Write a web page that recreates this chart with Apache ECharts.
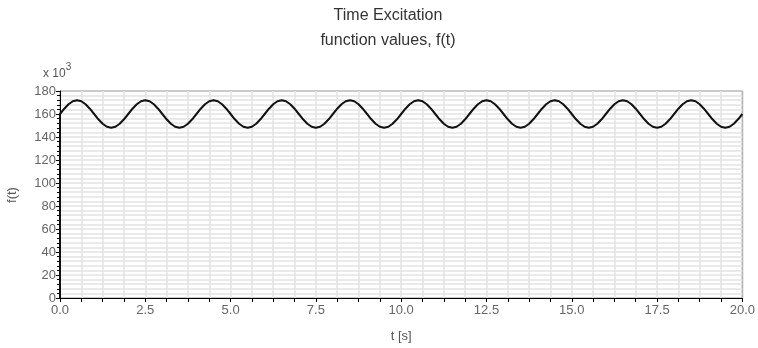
<!DOCTYPE html>
<html>
<head>
<meta charset="utf-8">
<script src="https://cdn.jsdelivr.net/npm/echarts@6/dist/echarts.min.js"></script>
<style>
html,body{margin:0;padding:0;background:#fff;}
#chart{width:758px;height:348px;}
</style>
</head>
<body>
<div id="chart"></div>
<script>
// Data (values in units of 10^3)
const titleText = "Time Excitation";
const subtitleText = "function values, f(t)";
const xName = "t [s]";
const yName = "f(t)";
const sampleStep = 0.125; // seconds between samples
const startPoint = [0, 0];
const fValues = [
  160, 164.6, 168.5, 171.1, 172, 171.1, 168.5, 164.6, 160, 155.4, 151.5, 148.9, 148, 148.9, 151.5, 155.4,
  160, 164.6, 168.5, 171.1, 172, 171.1, 168.5, 164.6, 160, 155.4, 151.5, 148.9, 148, 148.9, 151.5, 155.4,
  160, 164.6, 168.5, 171.1, 172, 171.1, 168.5, 164.6, 160, 155.4, 151.5, 148.9, 148, 148.9, 151.5, 155.4,
  160, 164.6, 168.5, 171.1, 172, 171.1, 168.5, 164.6, 160, 155.4, 151.5, 148.9, 148, 148.9, 151.5, 155.4,
  160, 164.6, 168.5, 171.1, 172, 171.1, 168.5, 164.6, 160, 155.4, 151.5, 148.9, 148, 148.9, 151.5, 155.4,
  160, 164.6, 168.5, 171.1, 172, 171.1, 168.5, 164.6, 160, 155.4, 151.5, 148.9, 148, 148.9, 151.5, 155.4,
  160, 164.6, 168.5, 171.1, 172, 171.1, 168.5, 164.6, 160, 155.4, 151.5, 148.9, 148, 148.9, 151.5, 155.4,
  160, 164.6, 168.5, 171.1, 172, 171.1, 168.5, 164.6, 160, 155.4, 151.5, 148.9, 148, 148.9, 151.5, 155.4,
  160, 164.6, 168.5, 171.1, 172, 171.1, 168.5, 164.6, 160, 155.4, 151.5, 148.9, 148, 148.9, 151.5, 155.4,
  160, 164.6, 168.5, 171.1, 172, 171.1, 168.5, 164.6, 160, 155.4, 151.5, 148.9, 148, 148.9, 151.5, 155.4,
  160
];

const seriesData = [startPoint].concat(fValues.map((v, i) => [i * sampleStep, v]));

const chart = echarts.init(document.getElementById('chart'), null, {renderer: 'canvas'});
const font = 'Liberation Sans, Arial, sans-serif';
const gridCol = '#e3e3e3';
chart.setOption({
  animation: false,
  backgroundColor: '#fff',
  title: {
    text: titleText,
    subtext: subtitleText,
    left: 383, top: 3, textAlign: 'center',
    itemGap: 9,
    textStyle: {fontFamily: font, fontSize: 16, fontWeight: 'normal', color: '#333'},
    subtextStyle: {fontFamily: font, fontSize: 16, color: '#333'}
  },
  grid: {left: 60, right: 15, top: 91, bottom: 48, show: true, borderColor: '#000', borderWidth: 1},
  xAxis: {
    type: 'value', min: 0, max: 20, interval: 2.5,
    name: xName, nameLocation: 'middle', nameGap: 32,
    nameTextStyle: {fontFamily: font, fontSize: 13, color: '#555'},
    axisLine: {lineStyle: {color: '#000', width: 1}},
    axisTick: {show: true, length: 4, lineStyle: {color: '#000'}},
    minorTick: {show: true, splitNumber: 4, length: 4, lineStyle: {color: '#000'}},
    axisLabel: {fontFamily: font, fontSize: 13, color: '#666', margin: 6,
      formatter: v => v.toFixed(1)},
    splitLine: {show: true, lineStyle: {color: gridCol, width: 1.5}},
    minorSplitLine: {show: true, lineStyle: {color: gridCol, width: 1.5}}
  },
  yAxis: {
    type: 'value', min: 0, max: 180, interval: 20,
    axisLine: {show: true, lineStyle: {color: '#000', width: 1}},
    axisTick: {show: true, length: 4, lineStyle: {color: '#000'}},
    minorTick: {show: true, splitNumber: 5, length: 3, lineStyle: {color: '#000'}},
    axisLabel: {fontFamily: font, fontSize: 13, color: '#666', margin: 4},
    splitLine: {show: true, lineStyle: {color: gridCol, width: 1.5}},
    minorSplitLine: {show: true, lineStyle: {color: gridCol, width: 1.5}}
  },
  graphic: [
    {type: 'text', left: 43, top: 62,
      style: {text: '{a|x 10}{s|3}', rich: {
        a: {fontFamily: font, fontSize: 12, fill: '#555', padding: [6, 0, 0, 0]},
        s: {fontFamily: font, fontSize: 10, fill: '#555', verticalAlign: 'top'}
      }}},
    {type: 'text', x: 12, y: 195, rotation: Math.PI / 2, z: 10,
      style: {text: yName, fontFamily: font, fontSize: 13, fill: '#555', align: 'center', verticalAlign: 'middle'}}
  ],
  series: [{
    type: 'line', data: seriesData, showSymbol: false, symbol: 'none',
    lineStyle: {color: '#111', width: 2}, clip: true
  }]
});
</script>
</body>
</html>
